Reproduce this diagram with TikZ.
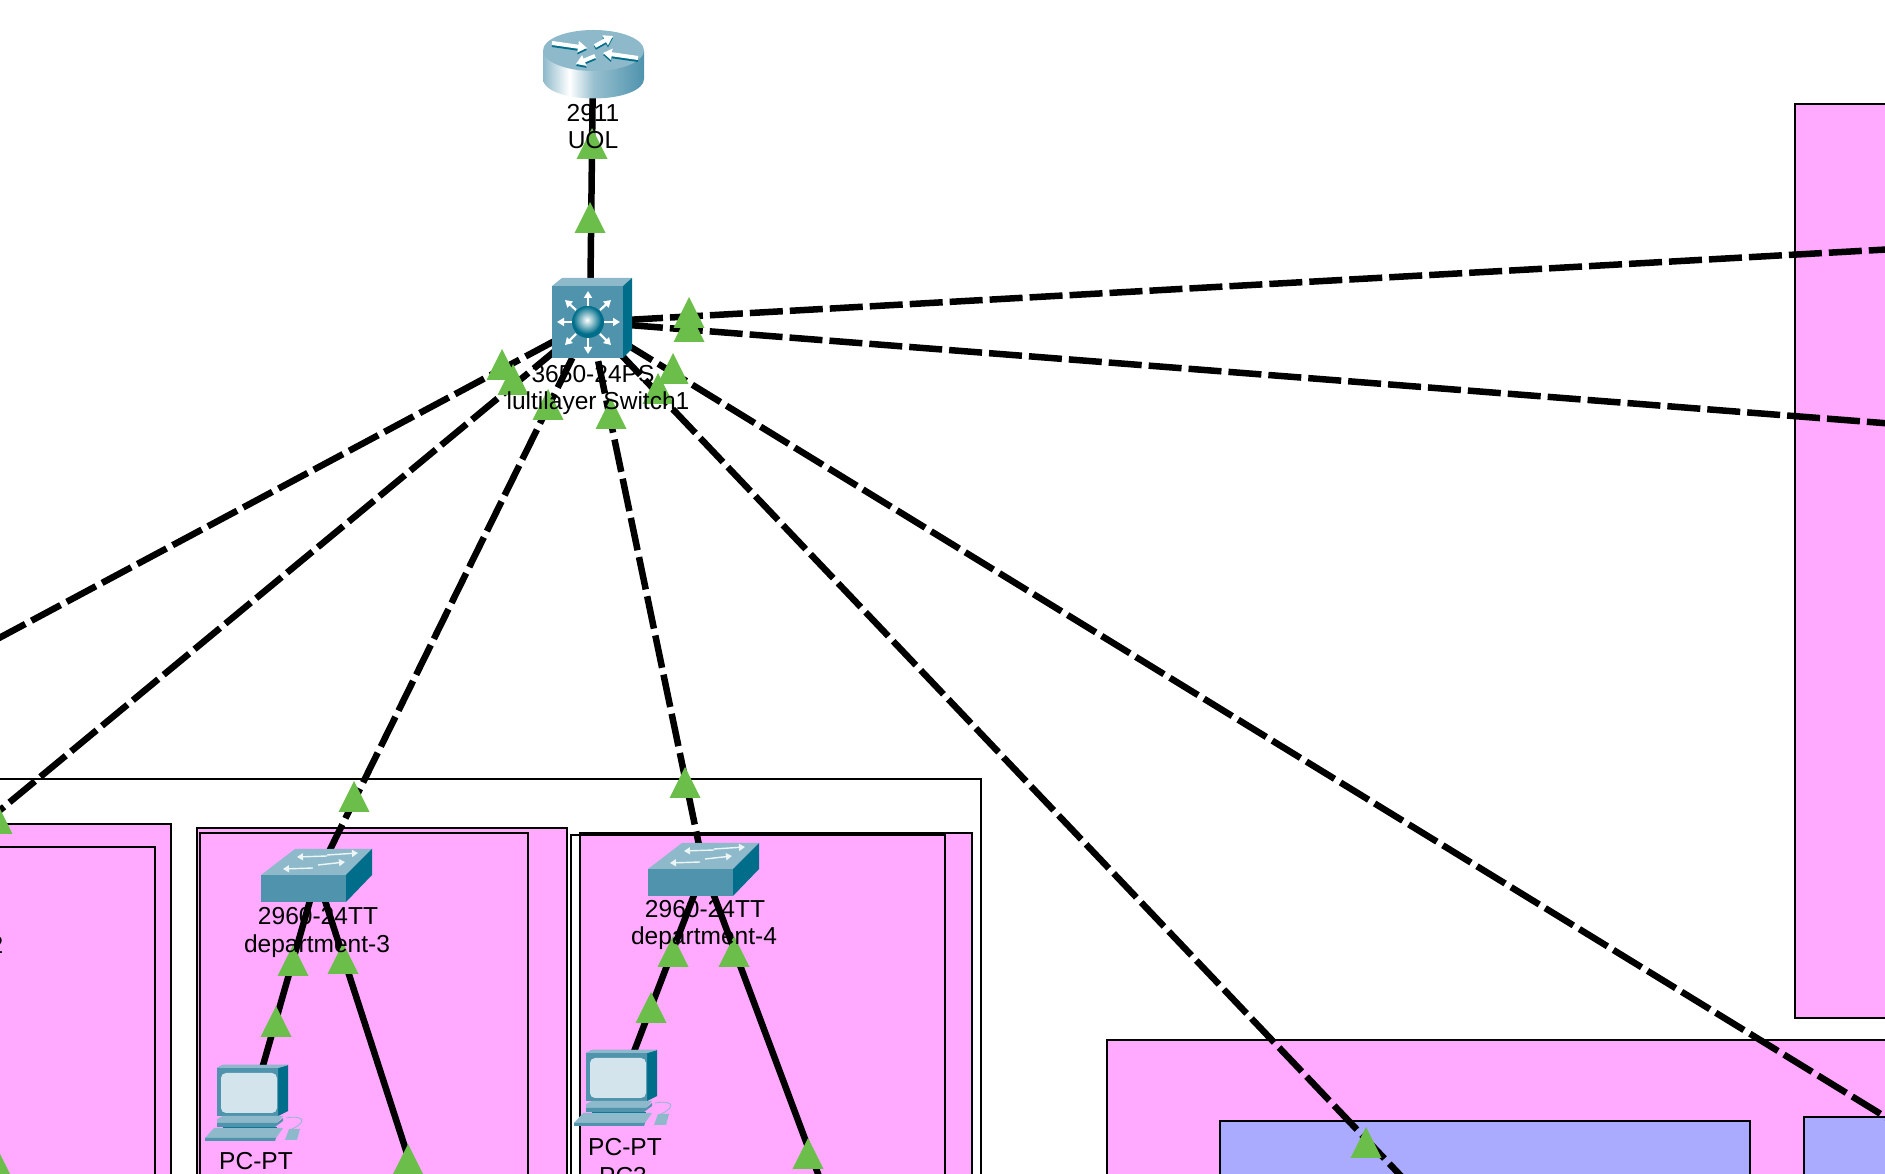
\documentclass[tikz,border=0pt]{standalone}
\usepackage{fontspec}
\setmainfont{Liberation Sans}
\usetikzlibrary{arrows.meta}

\definecolor{zonepink}{HTML}{FFAAFF}
\definecolor{zoneblue}{HTML}{AAAAFF}
\definecolor{markgreen}{HTML}{6CBE4B}
\definecolor{devfront}{HTML}{4F93AD}
\definecolor{devtop}{HTML}{8DB9CA}
\definecolor{devside}{HTML}{006E8A}
\definecolor{devscreen}{HTML}{D3E4EC}
\pgfdeclarehorizontalshading{routerbody}{100bp}{color(0bp)=(devside!85!white); color(25bp)=(devtop); color(38bp)=(white); color(50bp)=(devtop!90!white); color(75bp)=(devfront); color(100bp)=(devside)}

\tikzset{
  zone/.style={draw=black, line width=0.024cm, fill=zonepink},
  subnet/.style={draw=black, line width=0.024cm, fill=zoneblue},
  frameline/.style={draw=black, line width=0.024cm},
  solidlink/.style={line width=0.065cm},
  trunklink/.style={line width=0.065cm, dash pattern=on 0.33cm off 0.07cm},
  devlabel/.style={inner sep=0pt, font=\fontsize{6.98}{8}\selectfont},
  whitearrow/.style={white, line width=0.022cm, -{Triangle[length=0.07cm, width=0.08cm]}},
  routerarrow/.style={white, line width=0.04cm, -{Triangle[length=0.09cm, width=0.11cm]}},
  routershadow/.style={devside, line width=0.04cm, -{Triangle[length=0.09cm, width=0.11cm]}},
  sharrow/.style={white!85!devtop, line width=0.014cm, -{Triangle[length=0.06cm, width=0.07cm]}},
  linkmark/.pic={\fill [markgreen] (-15.5, 0) -- (15.5, 0) -- (0, -31) -- cycle;},
  swicon/.pic={
    \fill [devfront] (0, 0) rectangle (85, 27);
    \fill [devtop]   (0, 0) -- (34, -26) -- (111, -26) -- (85, 0) -- cycle;
    \fill [devside]  (85, 0) -- (111, -26) -- (111, 0) -- (85, 27) -- cycle;
    \draw [sharrow] (52, -7) -- (22, -6);
    \draw [sharrow] (57, -10) -- (84, -13);
    \draw [sharrow] (66, -19) -- (36, -18);
    \draw [sharrow] (66, -20) -- (97, -22);
  },
  pcicon/.pic={
    % monitor
    \fill [devside]  (61, 3) -- (71, 0) -- (71, 46) -- (61, 51) -- cycle;
    \fill [devfront] (0, 3) -- (6, 0) -- (71, 0) -- (61, 3) -- (61, 51) -- (0, 51) -- cycle;
    \fill [devtop]   (0, 3) -- (6, 0) -- (71, 0) -- (61, 3) -- cycle;
    \fill [devscreen, rounded corners=0.05cm] (4, 8) rectangle (60, 48);
    % stand
    \fill [devside]  (6, 62) rectangle (60, 68);
    \fill [devtop]   (0, 54) -- (6, 51) -- (66, 51) -- (60, 58) -- (0, 58) -- cycle;
    \fill [devfront] (0, 58) -- (60, 58) -- (66, 53) -- (66, 56) -- (58, 62) -- (0, 62) -- cycle;
    % keyboard and mouse
    \fill [devtop]   (-12, 73) -- (-3, 63) -- (66, 63) -- (59, 73) -- cycle;
    \fill [devfront] (-12, 73) -- (59, 73) -- (58, 76) -- (-12, 76) -- cycle;
    \fill [devtop]   (68, 75) -- (72, 64) -- (83, 64) -- (80, 75) -- cycle;
    \draw [devtop, line width=0.008cm] (69, 53) .. controls (85, 50) and (92, 56) .. (75, 64);
  },
}

\begin{document}
\begin{tikzpicture}[x=0.01cm, y=-0.01cm]
    \useasboundingbox (0, -1) rectangle (1885, 1173);
    % zones, left to right
    \draw [frameline, fill=white] (-100, 778) rectangle (981, 1300);
    \draw [zone]      (-100, 823) rectangle (171, 1300);
    \draw [zone]      (-100, 846) rectangle (155, 1300);
    \draw [zone]      (197, 827) rectangle (567, 1300);
    \draw [zone]      (200, 832) rectangle (528, 1300);
    \draw [zone]      (580, 832) rectangle (972, 1300);
    \draw [frameline] (571, 834) rectangle (945, 1300);
    \draw [zone]      (1795, 103) rectangle (2000, 1017);
    \draw [zone]      (1107, 1039) rectangle (2000, 1300);
    \draw [subnet]    (1220, 1120) rectangle (1750, 1300);
    \draw [subnet]    (1804, 1116) rectangle (2000, 1300);

    % devices and ends of the links
    \coordinate (uol)      at (593, 63);
    \coordinate (coreSw)   at (590, 321);
    \coordinate (dept3Sw)  at (317, 875);
    \coordinate (dept4Sw)  at (704, 868);
    \coordinate (pc2)      at (250, 1110);
    \coordinate (pc3)      at (617, 1095);
    \coordinate (dept3Off) at (450, 1285);
    \coordinate (dept4Off) at (860, 1285);
    \coordinate (rightUp)  at (1985, 243);
    \coordinate (rightLow) at (1985, 430);
    \coordinate (lowMid)   at (1495, 1274);
    \coordinate (lowRight) at (1985, 1177);
    \coordinate (dept1Off) at (-100, 690);
    \coordinate (dept2Sw)  at (-30, 834);

    % links
    \draw [solidlink] (uol) -- (coreSw);
    \draw [trunklink] (coreSw) -- (rightUp);
    \draw [trunklink] (coreSw) -- (rightLow);
    \draw [trunklink] (coreSw) -- (lowMid);
    \draw [trunklink] (coreSw) -- (lowRight);
    \draw [trunklink] (coreSw) -- (dept1Off);
    \draw [trunklink] (coreSw) -- (dept2Sw);
    \draw [trunklink] (coreSw) -- (dept3Sw);
    \draw [trunklink] (coreSw) -- (dept4Sw);
    \draw [solidlink] (dept3Sw) -- (pc2);
    \draw [solidlink] (dept3Sw) -- (dept3Off);
    \draw [solidlink] (dept4Sw) -- (pc3);
    \draw [solidlink] (dept4Sw) -- (dept4Off);

    % UOL router
    \shade [shading=routerbody] (543, 50) -- (543, 78) .. controls (543, 89) and (565, 97.5) .. (593.5, 97.5)
        .. controls (622, 97.5) and (644, 89) .. (644, 78) -- (644, 50) -- cycle;
    \fill [devtop] (593.5, 49.5) ellipse (50.5 and 20.5);
    \draw [routershadow] (552, 44) -- (587, 49);
    \draw [routershadow] (595, 47) -- (613, 37);
    \draw [routershadow] (638, 59) -- (603, 54);
    \draw [routershadow] (595, 57) -- (576, 65);
    \draw [routerarrow] (552, 42) -- (587, 47);
    \draw [routerarrow] (595, 45) -- (613, 35);
    \draw [routerarrow] (638, 57) -- (603, 52);
    \draw [routerarrow] (595, 55) -- (576, 63);

    % core switch
    \fill [devfront] (552, 285) rectangle (623, 357);
    \fill [devtop]   (552, 285) -- (562, 277) -- (632, 277) -- (623, 285) -- cycle;
    \fill [devside]  (623, 285) -- (632, 277) -- (632, 348) -- (623, 357) -- cycle;
    \draw [whitearrow] (588, 305) -- (588, 290);
    \draw [whitearrow] (588, 337) -- (588, 353);
    \draw [whitearrow] (572, 321) -- (557, 321);
    \draw [whitearrow] (604, 321) -- (620, 321);
    \draw [whitearrow] (600, 309) -- (611, 299);
    \draw [whitearrow] (576, 309) -- (565, 299);
    \draw [whitearrow] (600, 333) -- (611, 344);
    \draw [whitearrow] (576, 333) -- (565, 344);
    \fill [devside]  (588, 321) circle (16);
    \shade [inner color=white, outer color=devside] (587, 319) circle (14);

    % department switches and PCs
    \pic at (261, 874) {swicon};
    \pic at (648, 868) {swicon};
    \pic at (217, 1064) {pcicon};
    \pic at (586, 1049) {pcicon};

    % link marks
    \pic at (592, 158) {linkmark};
    \pic at (590, 232) {linkmark};
    \pic at (689, 327) {linkmark};
    \pic at (689, 341) {linkmark};
    \pic at (502, 379) {linkmark};
    \pic at (513, 394) {linkmark};
    \pic at (548, 419) {linkmark};
    \pic at (611, 428) {linkmark};
    \pic at (673, 383) {linkmark};
    \pic at (658, 403) {linkmark};
    \pic at (-3, 833) {linkmark};
    \pic at (0, 1184) {linkmark};
    \pic at (354, 811) {linkmark};
    \pic at (293, 975) {linkmark};
    \pic at (343, 973) {linkmark};
    \pic at (276, 1036) {linkmark};
    \pic at (408, 1174) {linkmark};
    \pic at (685, 797) {linkmark};
    \pic at (673, 966) {linkmark};
    \pic at (734, 966) {linkmark};
    \pic at (651, 1022) {linkmark};
    \pic at (808, 1168) {linkmark};
    \pic at (1366, 1157) {linkmark};

    % labels
    \node [devlabel] (uolModel)   at (593, 112) {2911};
    \node [devlabel] (uolName)    at (593, 139) {UOL};
    \node [devlabel] (coreModel)  at (593, 373) {3650-24PS};
    \node [devlabel] (coreName)   at (598, 402.5) {lultilayer Switch1};
    \node [devlabel, anchor=east] (dept2Name) at (4, 944) {2};
    \node [devlabel] (dept3Model) at (318, 915) {2960-24TT};
    \node [devlabel] (dept3Name)  at (317, 945.5) {department-3};
    \node [devlabel] (dept4Model) at (705, 908) {2960-24TT};
    \node [devlabel] (dept4Name)  at (704, 937.5) {department-4};
    \node [devlabel] (pc2Model)   at (256, 1160) {PC-PT};
    \node [devlabel] (pc3Model)   at (625, 1146) {PC-PT};
    \node [devlabel] (pc3Name)    at (623, 1175) {PC3};
\end{tikzpicture}
\end{document}
